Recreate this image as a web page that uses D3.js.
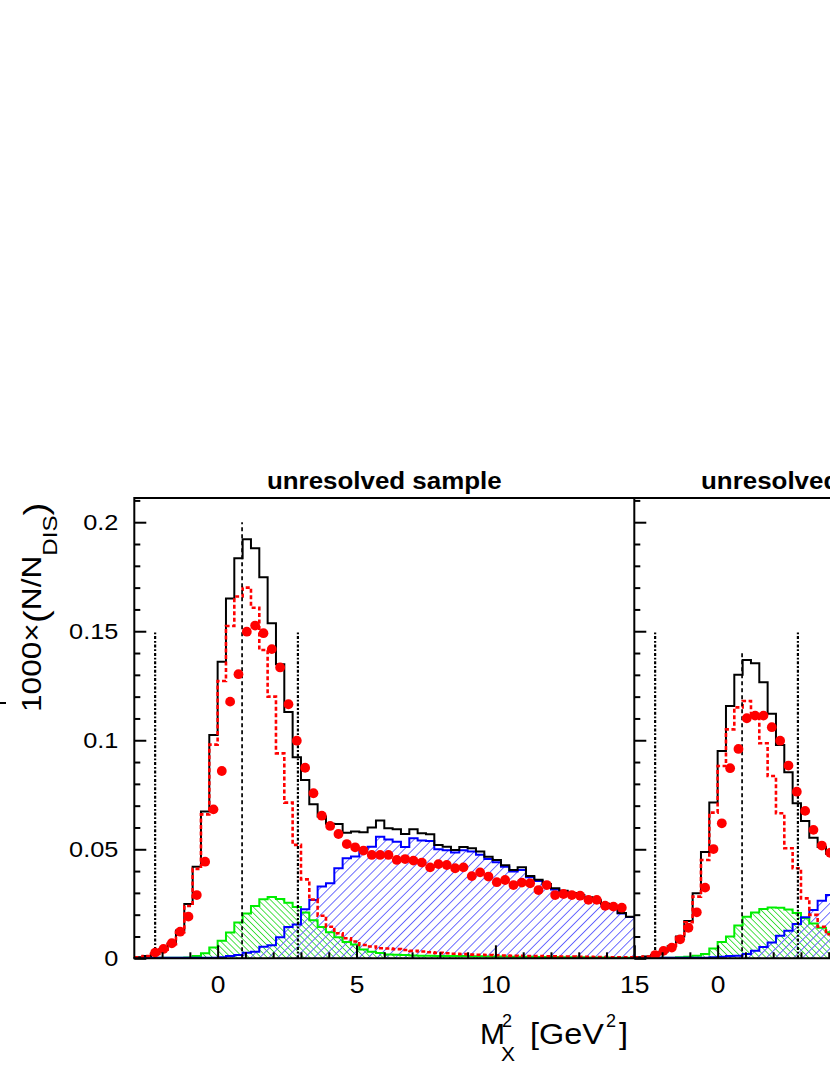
<!DOCTYPE html>
<html>
<head>
<meta charset="utf-8">
<script src="https://cdnjs.cloudflare.com/ajax/libs/d3/7.8.5/d3.min.js"></script>
<style>
html, body { margin: 0; padding: 0; background: #fff; }
svg { display: block; font-family: "Liberation Sans", Arial, Helvetica, sans-serif; }
</style>
</head>
<body>
<svg id="chart" width="830" height="1075"></svg>
<script>

// bins of 0.3 GeV^2 starting at -3
var binStart = -3, binWidth = 0.3;

// left panel, 60 bins
var blackL = [0.0005, 0.001, 0.0022, 0.0042, 0.0068, 0.0128, 0.0249, 0.042, 0.0673, 0.1024,
    0.136, 0.165, 0.1835, 0.1922, 0.188, 0.1748, 0.1537, 0.1349, 0.113, 0.0922,
    0.0818, 0.0706, 0.065, 0.0617, 0.0616, 0.0576, 0.0582, 0.0578, 0.06, 0.0632,
    0.0597, 0.0592, 0.057, 0.0592, 0.0573, 0.0569, 0.052, 0.0512, 0.0497, 0.051,
    0.0505, 0.049, 0.0466, 0.0451, 0.0427, 0.0405, 0.0417, 0.0378, 0.036, 0.0341,
    0.0321, 0.031, 0.03, 0.029, 0.028, 0.0266, 0.025, 0.0232, 0.0208, 0.0191];
var redDashL = [0.0005, 0.001, 0.002, 0.004, 0.0065, 0.012, 0.024, 0.041, 0.066, 0.098,
    0.1272, 0.1524, 0.1659, 0.17, 0.1608, 0.1414, 0.12, 0.094, 0.0714, 0.052,
    0.0362, 0.027, 0.0195, 0.0145, 0.0115, 0.0092, 0.0077, 0.0061, 0.0054, 0.0046,
    0.0045, 0.0042, 0.0038, 0.0034, 0.0031, 0.0028, 0.0025, 0.0023, 0.0021, 0.0019,
    0.0017, 0.0016, 0.0015, 0.0014, 0.0013, 0.0012, 0.0011, 0.001, 0.001, 0.0009,
    0.0009, 0.0008, 0.0008, 0.0007, 0.0007, 0.0006, 0.0006, 0.0005, 0.0005, 0.0005];
var greenL = [0.0002, 0.0002, 0.0002, 0.0002, 0.0002, 0.0002, 0.0004, 0.001, 0.0023, 0.0049,
    0.008, 0.0118, 0.0164, 0.0205, 0.024, 0.0271, 0.0281, 0.0272, 0.0255, 0.0235,
    0.021, 0.0175, 0.0143, 0.0119, 0.0097, 0.0075, 0.0063, 0.004, 0.003, 0.0024,
    0.0018, 0.0016, 0.0015, 0.0013, 0.0012, 0.0012, 0.0011, 0.0011, 0.001, 0.001,
    0.0009, 0.0009, 0.0008, 0.0008, 0.0008, 0.0007, 0.0007, 0.0007, 0.0006, 0.0006,
    0.0006, 0.0005, 0.0005, 0.0005, 0.0004, 0.0004, 0.0004, 0.0003, 0.0003, 0.0003];
var blueL = [0.0002, 0.0002, 0.0002, 0.0002, 0.0002, 0.0002, 0.0002, 0.0002, 0.0002, 0.0003,
    0.0005, 0.001, 0.0015, 0.0025, 0.003, 0.0053, 0.006, 0.0097, 0.0143, 0.0155,
    0.0225, 0.0267, 0.0329, 0.0344, 0.0413, 0.0459, 0.0467, 0.05, 0.0512, 0.0558,
    0.0545, 0.0535, 0.051, 0.055, 0.054, 0.0538, 0.05, 0.0495, 0.0485, 0.0495,
    0.049, 0.0475, 0.0455, 0.044, 0.042, 0.0398, 0.0405, 0.0372, 0.0355, 0.0336,
    0.0316, 0.0306, 0.0296, 0.0287, 0.0277, 0.0263, 0.0248, 0.023, 0.0206, 0.0189];
var dotsL = [null, null, 0.0026, 0.0043, 0.0069, 0.0122, 0.0191, 0.029, 0.0443, 0.0683,
    0.0859, 0.1177, 0.1303, 0.1498, 0.1526, 0.1491, 0.1418, 0.1334, 0.1165, 0.0998,
    0.0874, 0.0757, 0.0654, 0.0607, 0.057, 0.0524, 0.0509, 0.0494, 0.0474, 0.0474,
    0.0474, 0.0451, 0.0455, 0.0448, 0.0439, 0.0417, 0.0432, 0.0428, 0.0413, 0.0417,
    0.0377, 0.0394, 0.0375, 0.0349, 0.0359, 0.0336, 0.0347, 0.0344, 0.0313, 0.0336,
    0.029, 0.0295, 0.029, 0.0287, 0.0268, 0.0268, 0.0241, 0.0237, 0.0232, null];

// right panel, only the bins inside the picture
var blackR = [0.0005, 0.0008, 0.0015, 0.003, 0.0055, 0.01, 0.0171, 0.0298, 0.0487, 0.0714,
    0.0951, 0.1157, 0.13, 0.1368, 0.1353, 0.1266, 0.1121, 0.0978, 0.0853, 0.0711,
    0.063, 0.0553, 0.051, 0.048];
var redDashR = [0.0005, 0.0008, 0.0015, 0.003, 0.005, 0.0095, 0.0165, 0.0283, 0.0451, 0.0668,
    0.0882, 0.105, 0.1151, 0.118, 0.1108, 0.0986, 0.0836, 0.0665, 0.0505, 0.0413,
    0.0275, 0.0199, 0.0145, 0.011];
var greenR = [0.0002, 0.0002, 0.0002, 0.0002, 0.0003, 0.0005, 0.0007, 0.0012, 0.002, 0.0045,
    0.0075, 0.01, 0.015, 0.019, 0.021, 0.0226, 0.0233, 0.0232, 0.0224, 0.0208,
    0.0185, 0.016, 0.014, 0.012];
var blueR = [0.0002, 0.0002, 0.0002, 0.0002, 0.0002, 0.0002, 0.0002, 0.0003, 0.0003, 0.0005,
    0.0007, 0.001, 0.0012, 0.002, 0.0035, 0.0052, 0.0072, 0.0103, 0.0126, 0.0157,
    0.0188, 0.0222, 0.0264, 0.029];
var dotsR = [null, null, 0.0015, 0.0034, 0.0049, 0.0087, 0.014, 0.0211, 0.0324, 0.0501,
    0.0619, 0.0872, 0.096, 0.1101, 0.1113, 0.1113, 0.106, 0.0998, 0.0884, 0.0764,
    0.0676, 0.0589, 0.0517, 0.0484];

// cut lines
var dashDotCuts = [-2.25, 2.89];
var dashDotTop = 0.15;
var protonMass2 = 0.88;
var peakLineTop = [0.2, 0.14];

// ticks
var yTickMajor = [0, 0.05, 0.1, 0.15, 0.2];
var yTickLabels = ["0", "0.05", "0.1", "0.15", "0.2"];
var yTickMinor = [0.01, 0.02, 0.03, 0.04, 0.06, 0.07, 0.08, 0.09, 0.11, 0.12, 0.13, 0.14, 0.16, 0.17, 0.18, 0.19, 0.21];
var xTickMajor = [0, 5, 10, 15];
var xTickLabels = ["0", "5", "10", "15"];
var xTickMinor = [-2, -1, 1, 2, 3, 4, 6, 7, 8, 9, 11, 12, 13, 14];

var titles = ["unresolved sample", "unresolved sample"];

var FONT = '"Liberation Sans", Arial, Helvetica, sans-serif';
var W = 830;

var svg = d3.select('#chart');
svg.append('rect').attr('width', W).attr('height', 1075).attr('fill', '#fff');

var plotTop = 498, plotBottom = 958.3;
var y = d3.scaleLinear().domain([0, 0.2111]).range([plotBottom, plotTop]);
var xL = d3.scaleLinear().domain([-3, 15]).range([134.3, 634.3]);
var xR = d3.scaleLinear().domain([-3, 15]).range([634.3, 1134.3]);

var defs = svg.append('defs');

function hatch(id, size, angle, color) {
    defs.append('pattern')
        .attr('id', id)
        .attr('patternUnits', 'userSpaceOnUse')
        .attr('width', size).attr('height', size)
        .attr('patternTransform', 'rotate(' + angle + ')')
        .append('line')
        .attr('x1', size / 2).attr('y1', 0)
        .attr('x2', size / 2).attr('y2', size)
        .attr('stroke', color)
        .attr('stroke-width', 0.9);
}
hatch('hatchBlue', 6.4, 45, '#6060ff');
hatch('hatchGreen', 4.3, -45, '#33dd33');

function edge(k) { return binStart + k * binWidth; }

function binPoints(vals) {
    var pts = vals.map(function(v, k) { return [edge(k), v]; });
    pts.push([edge(vals.length), vals[vals.length - 1]]);
    return pts;
}

function drawPanel(x, d, idx) {
    var clipId = 'clip' + idx;
    defs.append('clipPath').attr('id', clipId).append('rect')
        .attr('x', x(-3)).attr('y', plotTop)
        .attr('width', x(15) - x(-3)).attr('height', plotBottom - plotTop);

    var g = svg.append('g').attr('clip-path', 'url(#' + clipId + ')');

    var line = d3.line()
        .x(function(p) { return x(p[0]); })
        .y(function(p) { return y(p[1]); })
        .curve(d3.curveStepAfter);
    var area = d3.area()
        .x(function(p) { return x(p[0]); })
        .y0(y(0))
        .y1(function(p) { return y(p[1]); })
        .curve(d3.curveStepAfter);

    // hatched fills
    g.append('path').attr('d', area(binPoints(d.green))).attr('fill', 'url(#hatchGreen)');
    g.append('path').attr('d', area(binPoints(d.blue))).attr('fill', 'url(#hatchBlue)');

    // outlines
    g.append('path').attr('d', line(binPoints(d.green)))
        .attr('fill', 'none').attr('stroke', '#00ee00').attr('stroke-width', 2);
    g.append('path').attr('d', line(binPoints(d.blue)))
        .attr('fill', 'none').attr('stroke', '#0000ff').attr('stroke-width', 2);
    g.append('path').attr('d', line(binPoints(d.black)))
        .attr('fill', 'none').attr('stroke', '#000').attr('stroke-width', 2);
    g.append('path').attr('d', line(binPoints(d.redDash)))
        .attr('fill', 'none').attr('stroke', '#ff0000').attr('stroke-width', 2.6)
        .attr('stroke-dasharray', '4,2.5');

    // cut lines
    g.selectAll('line.cut')
        .data(dashDotCuts)
        .enter().append('line')
        .attr('class', 'cut')
        .attr('x1', function(c) { return x(c); }).attr('x2', function(c) { return x(c); })
        .attr('y1', y(0)).attr('y2', y(dashDotTop))
        .attr('stroke', '#000').attr('stroke-width', 2.2)
        .attr('stroke-dasharray', '3,1.8,1.8,1.8');
    g.append('line')
        .attr('x1', x(protonMass2)).attr('x2', x(protonMass2))
        .attr('y1', y(0)).attr('y2', y(peakLineTop[idx]))
        .attr('stroke', '#000').attr('stroke-width', 1.7)
        .attr('stroke-dasharray', '4,3');

    // data points
    var pts = d.dots.map(function(v, k) { return { x: edge(k) + binWidth / 2, v: v }; })
        .filter(function(p) { return p.v !== null; });
    g.selectAll('circle')
        .data(pts)
        .enter().append('circle')
        .attr('cx', function(p) { return x(p.x); })
        .attr('cy', function(p) { return y(p.v); })
        .attr('r', 4.9)
        .attr('fill', '#ff0000');
}

drawPanel(xL, { black: blackL, redDash: redDashL, green: greenL, blue: blueL, dots: dotsL }, 0);
drawPanel(xR, { black: blackR, redDash: redDashR, green: greenR, blue: blueR, dots: dotsR }, 1);

// axes
function styleAxis(ga) {
    ga.select('.domain').remove();
    ga.selectAll('line').attr('stroke', '#000').attr('stroke-width', 2);
    ga.attr('font-family', FONT);
}

[xL, xR].forEach(function(x, i) {
    var x0 = x(-3);
    var ya = svg.append('g').attr('transform', 'translate(' + x0 + ',0)')
        .call(d3.axisLeft(y).tickValues(yTickMajor).tickSizeInner(-12).tickSizeOuter(0).tickPadding(16)
            .tickFormat(function(v) { return i === 0 ? yTickLabels[yTickMajor.indexOf(v)] : ''; }));
    styleAxis(ya);
    ya.selectAll('text')
        .attr('font-size', 22).attr('fill', '#000')
        .attr('x', -16 / 1.15).attr('transform', 'scale(1.15,1)');
    var ym = svg.append('g').attr('transform', 'translate(' + x0 + ',0)')
        .call(d3.axisLeft(y).tickValues(yTickMinor).tickSizeInner(-6).tickSizeOuter(0).tickFormat(''));
    styleAxis(ym);

    // only ticks that fall inside the picture
    var shown = xTickMajor.filter(function(v) { return x(v) < W; });
    var xa = svg.append('g').attr('transform', 'translate(0,' + plotBottom + ')')
        .call(d3.axisBottom(x).tickValues(shown).tickSizeInner(-13).tickSizeOuter(0).tickPadding(18)
            .tickFormat(function(v) { return xTickLabels[xTickMajor.indexOf(v)]; }));
    styleAxis(xa);
    xa.selectAll('text')
        .attr('font-size', 24).attr('fill', '#000')
        .attr('transform', 'scale(1.1,1)');
    var xm = svg.append('g').attr('transform', 'translate(0,' + plotBottom + ')')
        .call(d3.axisBottom(x).tickValues(xTickMinor.filter(function(v) { return x(v) < W; }))
            .tickSizeInner(-6).tickSizeOuter(0).tickFormat(''));
    styleAxis(xm);
});

// frame
var frame = svg.append('g').attr('stroke', '#000').attr('stroke-width', 2);
frame.append('line').attr('x1', xL(-3)).attr('x2', W).attr('y1', plotTop).attr('y2', plotTop);
frame.append('line').attr('x1', xL(-3) - 1).attr('x2', W).attr('y1', plotBottom).attr('y2', plotBottom);
frame.append('line').attr('x1', xL(-3)).attr('x2', xL(-3)).attr('y1', plotTop - 1).attr('y2', plotBottom);
frame.append('line').attr('x1', xR(-3)).attr('x2', xR(-3)).attr('y1', plotTop - 1).attr('y2', plotBottom);

// texts
function label(x, yy, str, size, opts) {
    opts = opts || {};
    var t = svg.append('g')
        .attr('transform', 'translate(' + x + ',' + yy + ')' + (opts.rot ? ' rotate(' + opts.rot + ')' : '') +
            ' scale(' + (opts.sx || 1) + ',1)')
        .append('text')
        .attr('font-family', FONT)
        .attr('font-size', size)
        .attr('font-weight', opts.bold ? 'bold' : 'normal')
        .attr('text-anchor', opts.anchor || 'start')
        .attr('fill', '#000');
    if (typeof str === 'string') t.text(str);
    return t;
}

label(xL(6), 489, titles[0], 24, { bold: true, anchor: 'middle', sx: 1.08 });
label(701, 489, titles[1], 24, { bold: true, anchor: 'start', sx: 1.08 });

// y title
var yt = label(40.7, 712, null, 27.5, { rot: -90, sx: 1.15 });
yt.append('tspan').text('1000\u00d7');
yt.append('tspan').attr('font-size', 34).attr('font-weight', 300).attr('dy', 6).text('(');
yt.append('tspan').attr('dy', -6).text('N/N');
yt.append('tspan').attr('font-size', 21).attr('dy', 16).text('DIS');
yt.append('tspan').attr('font-size', 34).attr('dy', -10).text(')');

// x title
label(480, 1043.5, 'M', 30);
label(502, 1027, '2', 18);
label(501, 1061, 'X', 21);
label(530, 1043.5, '[GeV', 30, { sx: 1.08 });
label(606, 1027, '2', 18);
label(619, 1043.5, ']', 30, { sx: 1.08 });

// cut-off mark at the left border
svg.append('line').attr('x1', 0).attr('x2', 6).attr('y1', 703).attr('y2', 703)
    .attr('stroke', '#000').attr('stroke-width', 2);

</script>
</body>
</html>
